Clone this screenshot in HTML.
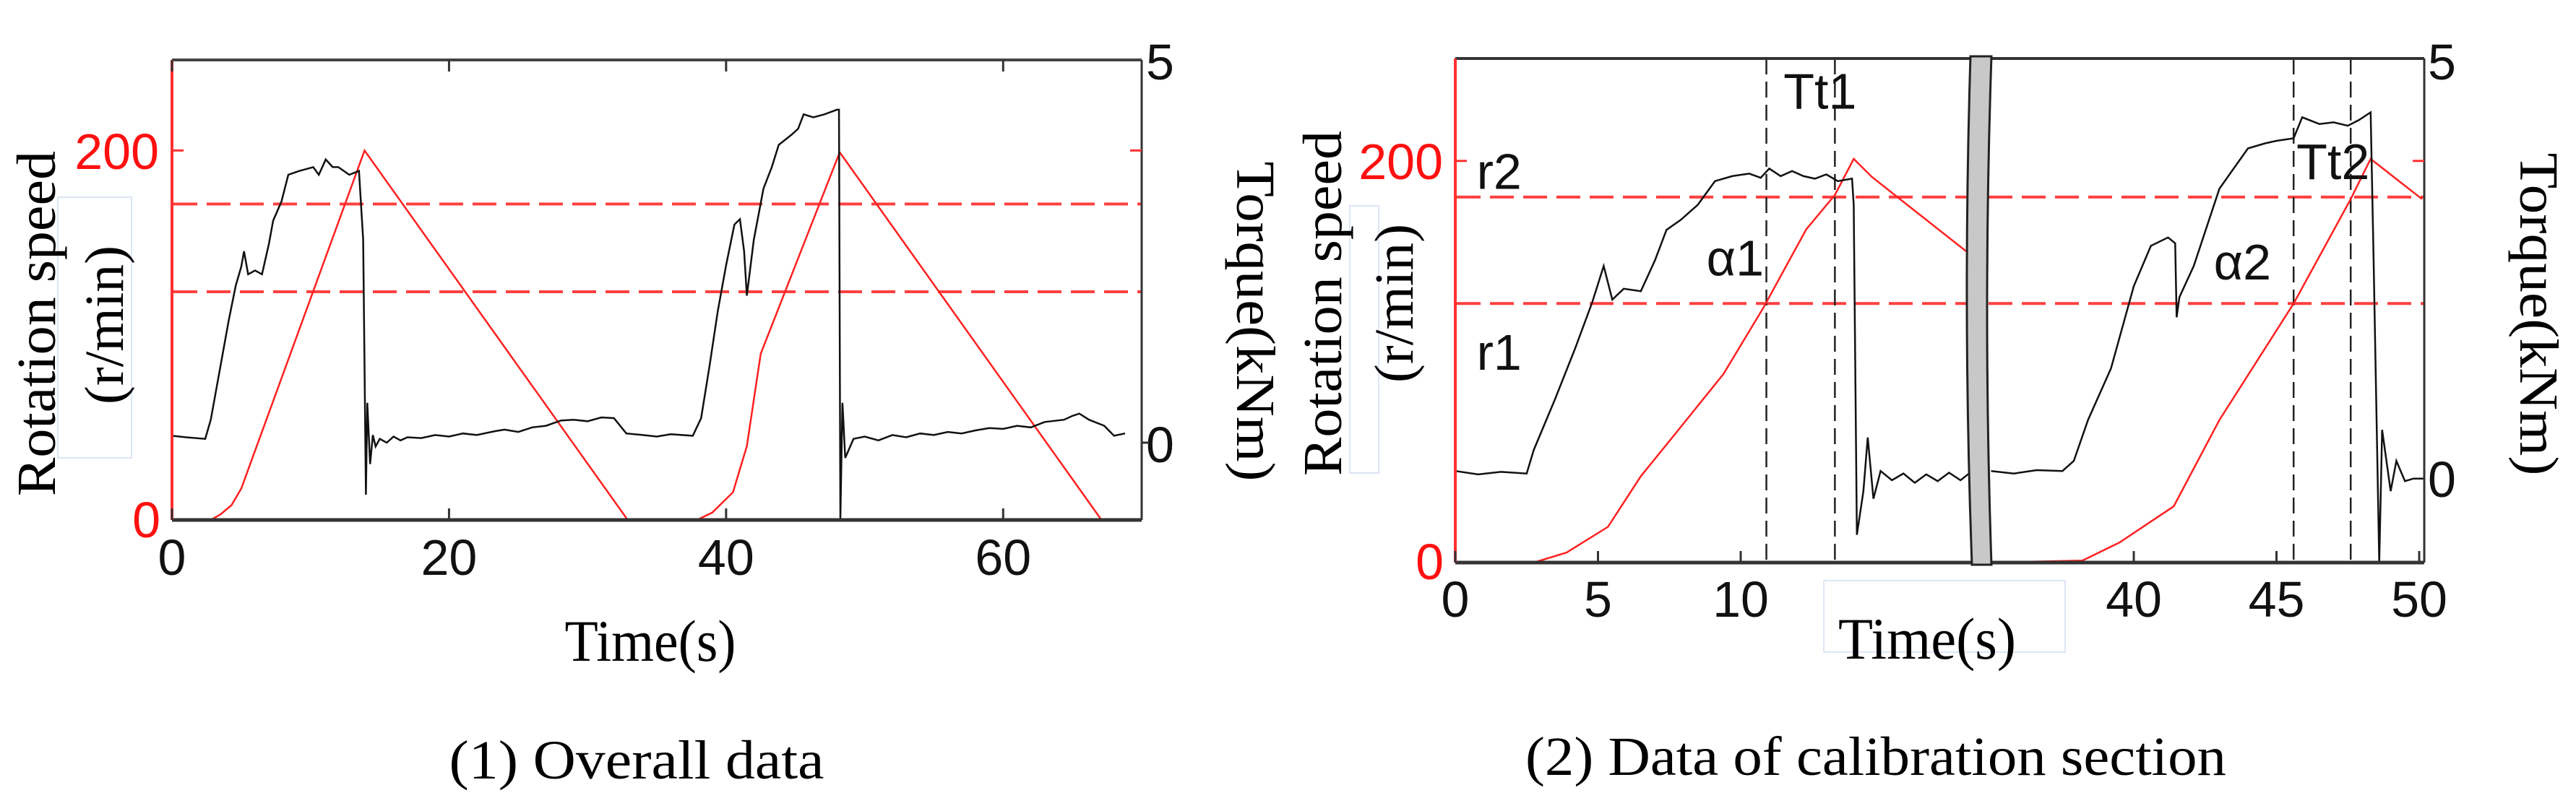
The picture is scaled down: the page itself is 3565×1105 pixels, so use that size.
<!DOCTYPE html>
<html><head><meta charset="utf-8"><style>
html,body{margin:0;padding:0;background:#fff;}
svg{display:block;}
.tk{font-family:"Liberation Sans",sans-serif;font-size:70px;}
.sf{font-family:"Liberation Serif",serif;}
</style></head><body>
<svg id="fig" width="3565" height="1105" viewBox="0 0 3565 1105" xmlns="http://www.w3.org/2000/svg">
<g id="left"></g>
<g id="right"></g>
</svg>
<script>
// ---- Chart 1 data (Overall data) ----
const L_speedT = [2.8,3.5,4.3,5,13.9,32.9,37.9,39,40.5,41.5,42.5,48.2,67.1];
const L_speedV = [0,3,8,17,200,0,0,4,15,40,90,199,0];
const L_torqT = [0,1,2.4,2.8,3.5,4.1,4.6,5.0,5.2,5.5,6.0,6.5,7.0,7.3,7.9,8.4,9.2,10.2,10.6,11.1,11.6,12,12.8,13.5,13.8,14.0,14.1,14.3,14.5,14.7,15,15.5,16,16.5,17,18,19,20,21,22,23.3,24,25,26,27,28.1,29,30,31,31.9,32.8,34,35,36,37.6,38.2,38.8,39.4,40,40.6,41.0,41.3,41.5,42,42.7,43.3,43.8,44.7,45.2,45.6,46.3,47.1,48,48.15,48.25,48.4,48.6,49.2,50,51,52,53,54,55,56,57,58,59,60,61,62,63,64.4,65,65.5,66.2,67.3,68.0,68.8];
const L_torqV = [0.09,0.07,0.05,0.3,1.0,1.6,2.05,2.3,2.5,2.2,2.25,2.2,2.6,2.9,3.15,3.5,3.55,3.6,3.5,3.7,3.6,3.6,3.5,3.55,2.65,-0.68,0.52,-0.28,0.1,-0.05,0.05,0.0,0.08,0.03,0.07,0.06,0.1,0.08,0.12,0.1,0.15,0.17,0.14,0.2,0.22,0.29,0.3,0.28,0.33,0.32,0.12,0.1,0.08,0.11,0.09,0.32,1.0,1.72,2.32,2.85,2.92,2.5,1.92,2.65,3.32,3.6,3.89,4.02,4.1,4.29,4.25,4.29,4.35,4.35,-1.0,0.52,-0.2,0.05,0.08,0.03,0.1,0.07,0.12,0.1,0.14,0.12,0.16,0.19,0.18,0.22,0.2,0.27,0.3,0.35,0.38,0.3,0.22,0.09,0.12,0.12];
const L_xTicks = [0,20,40,60];
const L_hDash = [171,123.5];
// ---- Chart 2 data (Calibration section) ----
const R_speedT1 = [2.75,3.9,5.35,6.5,7.7,9.4,10.8,12.3,13.3,13.96,14.6,17.9];
const R_speedV1 = [0,5,17.8,43,64,94,127,166,183,201,192,155];
const R_speedT2 = [35,38.2,39.5,41.4,43,45.6,47.6,48.3,50.1];
const R_speedV2 = [0,1,10,28,71,129,181,201,181];
const R_torqT1 = [0,0.8,1.6,2.5,2.75,3.5,4.2,4.8,5.2,5.5,5.9,6.5,7.0,7.4,7.9,8.5,9.1,9.7,10.3,10.7,11,11.4,11.8,12.2,12.6,13.0,13.4,13.9,13.96,14.07,14.3,14.45,14.65,14.9,15.3,15.7,16.1,16.5,16.9,17.3,17.7,18];
const R_torqV1 = [0.09,0.05,0.08,0.06,0.34,0.95,1.55,2.1,2.53,2.13,2.26,2.23,2.6,2.96,3.08,3.26,3.54,3.6,3.63,3.58,3.69,3.6,3.66,3.6,3.57,3.62,3.54,3.57,3.26,-0.67,-0.15,0.49,-0.24,0.09,-0.02,0.06,-0.05,0.05,-0.03,0.07,-0.02,0.06];
const R_torqT2 = [35,35.8,36.6,37.5,37.9,38.4,39.2,40,40.6,41.2,41.45,41.5,41.6,42.1,43,44,44.6,45,45.6,45.9,46.5,47,47.5,47.9,48.3,48.4,48.6,48.7,49,49.2,49.5,49.8,50.2];
const R_torqV2 = [0.09,0.06,0.1,0.09,0.21,0.7,1.31,2.29,2.77,2.87,2.8,1.92,2.16,2.53,3.45,3.93,3.99,4.02,4.05,4.3,4.22,4.24,4.2,4.27,4.36,2.65,-1.0,0.58,-0.15,0.21,-0.03,0.0,0.0];
const R_xTicks = [0,5,10,40,45,50];
const R_vDash = [10.9,13.3,45.6,47.6];
const R_hDash = [182,129];
const R_labels = [["r2",0.75,195],["r1",0.75,105],["α1",8.8,152],["Tt1",11.5,235],["α2",42.8,150],["Tt2",45.7,200]];

const NS='http://www.w3.org/2000/svg';
function mk(parent,tag,attrs,name){const e=document.createElementNS(NS,tag);for(const k in attrs)e.setAttribute(k,attrs[k]);


parent.appendChild(e);return e;}
function txt(parent,s,x,y,attrs,name){const e=mk(parent,'text',Object.assign({x:x,y:y},attrs),name);e.textContent=s;return e;}
function poly(parent,T,V,fx,fy,attrs,name){let d='';for(let i=0;i<T.length;i++)d+=(i?'L':'M')+fx(T[i]).toFixed(1)+' '+fy(V[i]).toFixed(1);return mk(parent,'path',Object.assign({d:d,fill:'none'},attrs),name);}
function stt(len){return {textLength:len,lengthAdjust:'spacingAndGlyphs'};}

// ===== Left chart =====
(function(){
const g=document.getElementById('left');
const X0=238,X1=1580,YT=83,YB=720;
const xs=t=>X0+(t/70)*(X1-X0);
const ys=v=>YB-(v/249)*(YB-YT);
const yt=v=>YB-((v+1.01)/6.01)*(YB-YT);
mk(g,'rect',{x:80,y:273,width:102,height:361,fill:'none',stroke:'#dde6f5','stroke-width':2},'ylabel-box');
L_hDash.forEach((v,i)=>{mk(g,'line',{x1:X0+2,x2:X1,y1:ys(v),y2:ys(v),stroke:'#ff4040','stroke-width':4,'stroke-dasharray':'33 13'},'threshold-line-'+(i+1));});
poly(g,L_speedT,L_speedV,xs,ys,{stroke:'#ff2020','stroke-width':2.5},'rotation-speed-line');
poly(g,L_torqT,L_torqV,xs,yt,{stroke:'#111','stroke-width':2.5},'torque-line');
mk(g,'line',{x1:X0,x2:X1,y1:YT,y2:YT,stroke:'#444','stroke-width':4},'top-spine');
mk(g,'line',{x1:X0,x2:X1,y1:YB,y2:YB,stroke:'#333','stroke-width':5},'x-axis');
mk(g,'line',{x1:X1,x2:X1,y1:YT,y2:YB,stroke:'#333','stroke-width':3},'right-y-axis');
mk(g,'line',{x1:X0,x2:X0,y1:YT,y2:YB,stroke:'#ff3030','stroke-width':4},'left-y-axis');
L_xTicks.forEach(t=>{mk(g,'line',{x1:xs(t),x2:xs(t),y1:YB,y2:YB-16,stroke:'#333','stroke-width':3},'x-tick');
mk(g,'line',{x1:xs(t),x2:xs(t),y1:YT,y2:YT+16,stroke:'#333','stroke-width':3},'x-tick-top');
txt(g,String(t),xs(t),796,{class:'tk','text-anchor':'middle',fill:'#111'},'x-tick-label');});
mk(g,'line',{x1:X0,x2:X0+16,y1:ys(200),y2:ys(200),stroke:'#ff3030','stroke-width':3},'y-tick-200');
mk(g,'line',{x1:X1,x2:X1-16,y1:ys(200),y2:ys(200),stroke:'#ff3030','stroke-width':3},'y-tick-200-right');
txt(g,'200',220,234,{class:'tk','text-anchor':'end',fill:'#ff1010'},'y-tick-label-200');
txt(g,'0',222,744,{class:'tk','text-anchor':'end',fill:'#ff1010'},'y-tick-label-0');
txt(g,'5',1586,110,{class:'tk',fill:'#111'},'torque-tick-label-5');
txt(g,'0',1586,640,{class:'tk',fill:'#111'},'torque-tick-label-0');
mk(g,'line',{x1:X1,x2:X1+10,y1:yt(0),y2:yt(0),stroke:'#333','stroke-width':3},'torque-tick-0');
txt(g,'Rotation speed',76,448,Object.assign({class:'sf','font-size':76,'text-anchor':'middle',transform:'rotate(-90 76 448)',fill:'#000'},stt(478)),'y-axis-title');
txt(g,'(r/min)',170,450,Object.assign({class:'sf','font-size':76,'text-anchor':'middle',transform:'rotate(-90 170 450)',fill:'#000'},stt(220)),'y-axis-unit');
txt(g,'Torque(kNm)',1712,445,Object.assign({class:'sf','font-size':76,'text-anchor':'middle',transform:'rotate(90 1712 445)',fill:'#000'},stt(443)),'right-y-axis-title');
txt(g,'Time(s)',900,915,Object.assign({class:'sf','font-size':82,'text-anchor':'middle',fill:'#000'},stt(237)),'x-axis-title');
txt(g,'(1) Overall data',881,1078,Object.assign({class:'sf','font-size':76,'text-anchor':'middle',fill:'#000'},stt(519)),'caption-1');
})();

// ===== Right chart =====
(function(){
const g=document.getElementById('right');
const X0=2014,X1=3355,YT=81,YB=779;
const K=39.5;
const xs=t=>t<=25?X0+t*K:2953+(t-40)*K;
const ys=v=>YB-(v/251)*(YB-YT);
const yt=v=>YB-((v+1.0)/6.0)*(YB-YT);
mk(g,'rect',{x:1868,y:285,width:40,height:370,fill:'none',stroke:'#dde6f5','stroke-width':2},'ylabel-box');
mk(g,'rect',{x:2524,y:804,width:334,height:99,fill:'none',stroke:'#dde6f5','stroke-width':2},'xlabel-box');
R_hDash.forEach((v,i)=>{mk(g,'line',{x1:X0+2,x2:X1,y1:ys(v),y2:ys(v),stroke:'#ff4040','stroke-width':4,'stroke-dasharray':'33 13'},'threshold-line-r'+(i+1));});
R_vDash.forEach(t=>{mk(g,'line',{x1:xs(t),x2:xs(t),y1:YT,y2:YB,stroke:'#222','stroke-width':2.5,'stroke-dasharray':'22 10'},'marker-line');});
poly(g,R_speedT1,R_speedV1,xs,ys,{stroke:'#ff2020','stroke-width':2.5},'rotation-speed-line-1');
poly(g,R_speedT2,R_speedV2,xs,ys,{stroke:'#ff2020','stroke-width':2.5},'rotation-speed-line-2');
poly(g,R_torqT1,R_torqV1,xs,yt,{stroke:'#111','stroke-width':2.5},'torque-line-1');
poly(g,R_torqT2,R_torqV2,xs,yt,{stroke:'#111','stroke-width':2.5},'torque-line-2');
mk(g,'line',{x1:X0,x2:X1,y1:YT,y2:YT,stroke:'#333','stroke-width':4},'top-spine');
mk(g,'line',{x1:X0,x2:X1,y1:YB,y2:YB,stroke:'#333','stroke-width':5},'x-axis');
mk(g,'line',{x1:X1,x2:X1,y1:YT,y2:YB,stroke:'#333','stroke-width':3},'right-y-axis');
mk(g,'line',{x1:X0,x2:X0,y1:YT,y2:YB,stroke:'#ff3030','stroke-width':4},'left-y-axis');
mk(g,'path',{d:'M2727 78 Q2716 430 2729 782 L2756 782 Q2744 430 2756 78 Z',fill:'#c8c8c8',stroke:'#222','stroke-width':3},'axis-break');
R_xTicks.forEach(t=>{mk(g,'line',{x1:xs(t),x2:xs(t),y1:YB,y2:YB-16,stroke:'#333','stroke-width':3},'x-tick');
txt(g,String(t),xs(t),854,{class:'tk','text-anchor':'middle',fill:'#111'},'x-tick-label');});
mk(g,'line',{x1:X0,x2:X0+16,y1:ys(200),y2:ys(200),stroke:'#ff3030','stroke-width':3},'y-tick-200');
mk(g,'line',{x1:X1,x2:X1-16,y1:ys(200),y2:ys(200),stroke:'#ff3030','stroke-width':3},'y-tick-200-right');
txt(g,'200',1997,248,{class:'tk','text-anchor':'end',fill:'#ff1010'},'y-tick-label-200');
txt(g,'0',1998,802,{class:'tk','text-anchor':'end',fill:'#ff1010'},'y-tick-label-0');
txt(g,'5',3360,110,{class:'tk',fill:'#111'},'torque-tick-label-5');
txt(g,'0',3360,688,{class:'tk',fill:'#111'},'torque-tick-label-0');
R_labels.forEach(l=>{txt(g,l[0],xs(l[1]),ys(l[2])+25,{class:'tk','font-size':70,fill:'#111'},'annotation-'+l[0]);});
txt(g,'Rotation speed',1856,420,Object.assign({class:'sf','font-size':76,'text-anchor':'middle',transform:'rotate(-90 1856 420)',fill:'#000'},stt(478)),'y-axis-title');
txt(g,'(r/min)',1955,420,Object.assign({class:'sf','font-size':76,'text-anchor':'middle',transform:'rotate(-90 1955 420)',fill:'#000'},stt(220)),'y-axis-unit');
txt(g,'Torque(kNm)',3488,435,Object.assign({class:'sf','font-size':76,'text-anchor':'middle',transform:'rotate(90 3488 435)',fill:'#000'},stt(447)),'right-y-axis-title');
txt(g,'Time(s)',2667,912,Object.assign({class:'sf','font-size':82,'text-anchor':'middle',fill:'#000'},stt(246)),'x-axis-title');
txt(g,'(2) Data of calibration section',2596,1073,Object.assign({class:'sf','font-size':76,'text-anchor':'middle',fill:'#000'},stt(970)),'caption-2');
})();
</script>
</body></html>
